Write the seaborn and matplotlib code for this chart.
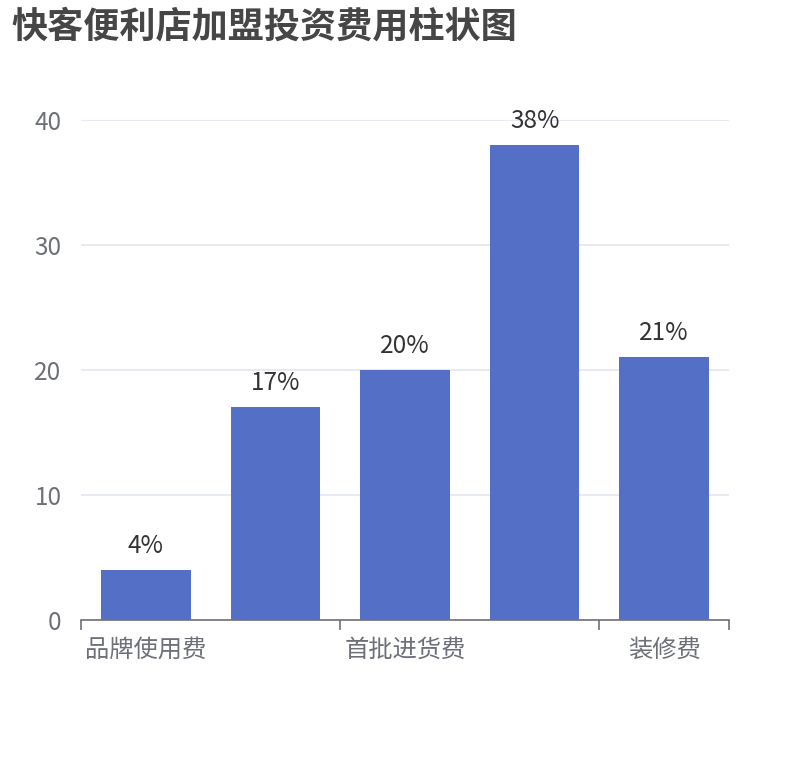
import numpy as np
import pandas as pd
import seaborn as sns
from matplotlib import pyplot as plt

# data
categories = ['品牌使用费', '加盟费', '首批进货费', '设备费', '装修费']
values = [4, 17, 20, 38, 21]
shown_labels = ['品牌使用费', '', '首批进货费', '', '装修费']
y_ticks = [0, 10, 20, 30, 40]

df = pd.DataFrame({'项目': categories, '费用': values})

sns.set_theme(style='white')
plt.rcParams['font.family'] = ['Noto Sans CJK SC', 'DejaVu Sans']

fig = plt.figure(figsize=(8.1, 7.6), dpi=100)
ax = fig.add_axes([0.1, 0.1842, 0.8, 0.658])

sns.barplot(data=df, x='项目', y='费用', color='#5470c6', saturation=1,
            width=0.69, linewidth=0, ax=ax)

ax.bar_label(ax.containers[0], labels=[f'{v}%' for v in values],
             padding=8, fontsize=17.5, color='#333333')

ax.set_ylim(0, 40)
ax.set_xlim(-0.5, len(categories) - 0.5)
ax.set_yticks(y_ticks)
ax.set_yticklabels([str(t) for t in y_ticks], fontsize=17.5, color='#6e7079')
ax.yaxis.grid(True, color='#e0e6f1', linewidth=1.2)
ax.set_axisbelow(True)
ax.tick_params(axis='y', length=0, pad=14)

# boundary ticks with every other label, like the original
ax.set_xticks([-0.5, 1.5, 3.5, 4.5])
ax.set_xticklabels([])
ax.set_xticks(range(len(categories)), minor=True)
ax.set_xticklabels(shown_labels, minor=True, fontsize=17.5, color='#6e7079')
ax.tick_params(axis='x', which='major', bottom=True, length=7, width=1.2,
               color='#6e7079', direction='out')
ax.tick_params(axis='x', which='minor', bottom=True, length=0, pad=12)

for s in ['top', 'right', 'left']:
    ax.spines[s].set_visible(False)
ax.spines['bottom'].set_color('#6e7079')
ax.spines['bottom'].set_linewidth(1.2)

ax.set_xlabel('')
ax.set_ylabel('')

fig.text(0.014, 0.965, '快客便利店加盟投资费用柱状图', fontsize=26, fontweight='bold',
         color='#464646', va='center', ha='left')

plt.savefig('out.png', dpi=100)
